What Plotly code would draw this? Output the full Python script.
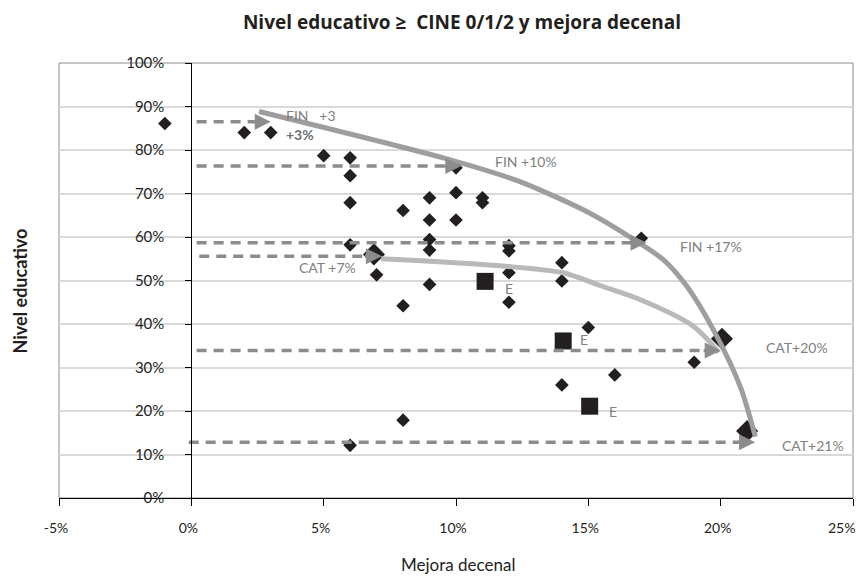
import plotly.graph_objects as go

# ---------------- data (percent units) ----------------
x_ticks = [-5, 0, 5, 10, 15, 20, 25]
x_ticktext = ["-5%", "0%", "5%", "10%", "15%", "20%", "25%"]
y_ticks = [0, 10, 20, 30, 40, 50, 60, 70, 80, 90, 100]
y_ticktext = ["0%", "10%", "20%", "30%", "40%", "50%", "60%", "70%", "80%", "90%", "100%"]

dia_x = [-1, 2, 3, 5, 6, 6, 6, 6, 6, 7, 8, 8, 8, 9, 9, 9, 9, 9, 10, 10, 10,
         11, 11, 12, 12, 12, 12, 14, 14, 14, 15, 16, 17, 19]
dia_y = [86.1, 84.0, 84.0, 78.7, 78.2, 74.1, 67.9, 58.2, 12.1, 51.3, 66.1, 44.2,
         17.9, 69.0, 63.9, 59.4, 57.0, 49.1, 75.9, 70.2, 63.9, 69.0, 67.9, 58.0,
         56.8, 51.8, 45.0, 54.1, 49.9, 26.0, 39.2, 28.3, 59.7, 31.2]

big_x = [6.9, 20.05, 21.0]
big_y = [56.0, 36.6, 15.4]

sq_x = [11.1, 14.05, 15.05]
sq_y = [49.8, 36.1, 21.1]

e_text = ["E", "E", "E"]
e_x = [11.76, 14.6, 15.7]
e_y = [48.2, 36.4, 19.9]

ref_y = [86.5, 76.3, 58.7, 55.6, 33.9, 12.8]
ref_start = [0.2, 0.2, 0.2, 0.3, 0.2, -0.1]
ref_end = [3.0, 10.2, 17.2, 7.2, 20.0, 21.3]

fin_x = [2.56, 9.75, 12.29, 14.79, 16.31, 17.83, 18.73, 19.72, 20.74, 21.31]
fin_y = [88.85, 77.8, 73.0, 66.3, 61.0, 54.8, 48.6, 38.7, 25.6, 14.1]

cat_x = [7.17, 11.52, 14.05, 15.44, 16.95, 18.97, 19.73, 19.92]
cat_y = [55.0, 53.45, 51.77, 48.85, 45.63, 39.49, 34.9, 33.38]

lab_text = ["FIN\u00a0\u00a0\u00a0+3", "<b>+3%</b>", "FIN +10%", "FIN +17%",
            "CAT +7%", "CAT+20%", "CAT+21%"]
lab_x = [3.5, 3.5, 11.4, 18.4, 4.0, 21.65, 22.25]
lab_y = [87.9, 83.6, 77.4, 57.8, 52.9, 34.7, 12.1]

x_range = [-5, 25]
y_range = [0, 100]

FONT = "Lato, 'Open Sans', sans-serif"
TFONT = "'Open Sans', Lato, sans-serif"
INK = "#231f20"
DASH_C = "#8c8c8c"
LAB_C = "#808080"

fig = go.Figure()

# points
fig.add_trace(go.Scatter(x=dia_x, y=dia_y, mode="markers",
                         marker=dict(symbol="diamond", size=10.5, color=INK),
                         showlegend=False, hoverinfo="skip"))
fig.add_trace(go.Scatter(x=big_x, y=big_y, mode="markers",
                         marker=dict(symbol="diamond", size=17, color=INK),
                         showlegend=False, hoverinfo="skip"))
fig.add_trace(go.Scatter(x=sq_x, y=sq_y, mode="markers",
                         marker=dict(symbol="square", size=17, color=INK),
                         showlegend=False, hoverinfo="skip"))

# dashed reference lines
for ys, x0, x1 in zip(ref_y, ref_start, ref_end):
    fig.add_trace(go.Scatter(x=[x0, x1 - 0.3], y=[ys, ys], mode="lines",
                             line=dict(color=DASH_C, width=3.5, dash="10px,7px"),
                             showlegend=False, hoverinfo="skip"))
    fig.add_annotation(x=x1, y=ys, ax=x1 - 0.7, ay=ys, xref="x", yref="y",
                       axref="x", ayref="y", text="", showarrow=True,
                       arrowhead=2, arrowsize=1, arrowwidth=3.2,
                       arrowcolor=DASH_C)

# curves
fig.add_trace(go.Scatter(x=cat_x, y=cat_y, mode="lines",
                         line=dict(color="#b9b9b9", width=5, shape="spline", smoothing=0.8),
                         showlegend=False, hoverinfo="skip"))
fig.add_trace(go.Scatter(x=fin_x, y=fin_y, mode="lines",
                         line=dict(color="#9e9e9e", width=5, shape="spline", smoothing=0.8),
                         showlegend=False, hoverinfo="skip"))

# labels
for t, xx, yy in zip(lab_text, lab_x, lab_y):
    fig.add_annotation(x=xx, y=yy, text=t, showarrow=False, xanchor="left",
                       yanchor="middle", font=dict(family=FONT, size=14,
                       color="#707070" if "+3%" in t else LAB_C))
for t, xx, yy in zip(e_text, e_x, e_y):
    fig.add_annotation(x=xx, y=yy, text=t, showarrow=False, xanchor="left",
                       yanchor="middle", font=dict(family=FONT, size=14, color=LAB_C))

# last x tick label kept inside the visible page edge
fig.add_annotation(x=x_ticks[-1], y=-0.068, xref="x", yref="paper",
                   text=x_ticktext[-1], showarrow=False, xanchor="right",
                   yanchor="middle", xshift=4,
                   font=dict(family=FONT, size=14, color=INK))
axis_ticktext = x_ticktext[:-1] + [""]

# axis titles
fig.add_annotation(x=-0.049, y=0.475, xref="paper", yref="paper",
                   text="<b>Nivel educativo</b>", textangle=-90, showarrow=False,
                   xanchor="center", yanchor="middle",
                   font=dict(family=FONT, size=18, color=INK))
fig.add_annotation(x=0.502, y=-0.153, xref="paper", yref="paper",
                   text="Mejora decenal", showarrow=False, xanchor="center",
                   yanchor="middle",
                   font=dict(family=FONT, size=17, color=INK))

# plot frame
fig.add_shape(type="rect", xref="paper", yref="paper", x0=0, x1=1, y0=0, y1=1,
              line=dict(color="#8a8a8a", width=1), layer="below")

y_pos = (0 - x_range[0]) / (x_range[1] - x_range[0])

# page body has an 8px margin: figure is sized to fit the 866x579 window
W, H = 858, 571
fig.update_layout(
    width=W, height=H,
    margin=dict(l=51, r=13, t=55, b=81),
    paper_bgcolor="white", plot_bgcolor="white",
    title=dict(text="<b>Nivel educativo \u2265  CINE 0/1/2 y mejora decenal</b>",
               x=454 / W, xref="container", xanchor="center",
               y=1 - 14 / H, yref="container", yanchor="middle",
               font=dict(family=TFONT, size=19, color=INK)),
    xaxis=dict(range=x_range, tickmode="array", tickvals=x_ticks, ticktext=axis_ticktext,
               showgrid=False, zeroline=False, showline=True, linecolor="black",
               linewidth=1, ticks="outside", ticklen=7, tickcolor="black",
               ticklabelstandoff=10, ticklabelshift=-3,
               ticklabeloverflow="allow", automargin=False,
               tickfont=dict(family=FONT, size=14, color=INK)),
    yaxis=dict(range=y_range, tickmode="array", tickvals=y_ticks, ticktext=y_ticktext,
               anchor="free", position=y_pos, automargin=False,
               showgrid=True, gridcolor="#d9d9d9", gridwidth=1.5,
               zeroline=False, showline=True, linecolor="black", linewidth=1,
               ticks="outside", ticklen=6, tickcolor="black",
               ticklabelstandoff=18,
               tickfont=dict(family=FONT, size=15, color=INK)),
)

fig.write_html("out.html")
